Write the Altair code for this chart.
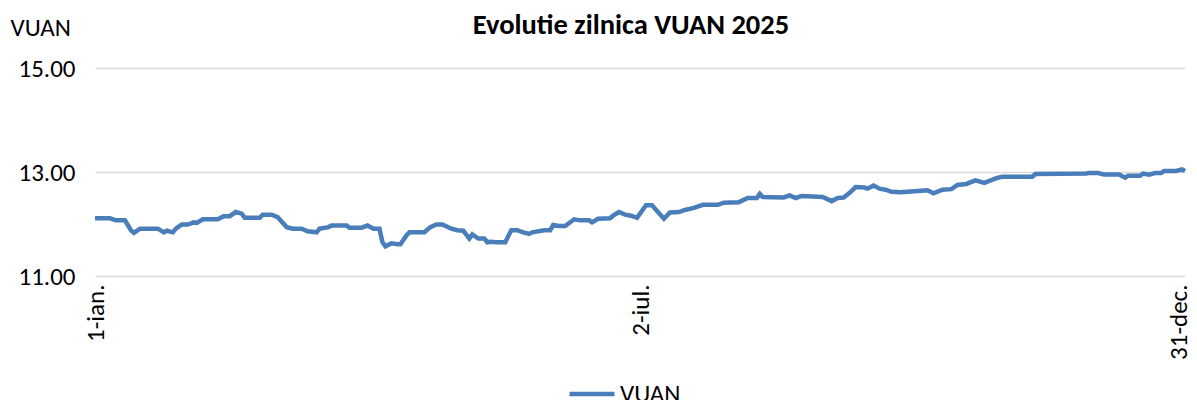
import altair as alt
import pandas as pd

# Data (VUAN daily evolution, 2025)
dates = [
    "2025-01-01", "2025-01-06", "2025-01-08", "2025-01-11", "2025-01-13", "2025-01-14", "2025-01-16",
    "2025-01-22", "2025-01-24", "2025-01-25", "2025-01-27", "2025-01-28", "2025-01-30",
    "2025-02-01", "2025-02-03", "2025-02-04", "2025-02-06", "2025-02-11", "2025-02-13", "2025-02-15",
    "2025-02-17", "2025-02-19", "2025-02-20", "2025-02-25", "2025-02-26",
    "2025-03-01", "2025-03-03", "2025-03-06", "2025-03-08", "2025-03-11", "2025-03-13", "2025-03-16",
    "2025-03-17", "2025-03-20", "2025-03-21", "2025-03-26", "2025-03-27", "2025-03-31",
    "2025-04-02", "2025-04-04", "2025-04-06", "2025-04-07", "2025-04-08", "2025-04-10", "2025-04-12",
    "2025-04-13", "2025-04-15", "2025-04-16", "2025-04-21", "2025-04-23", "2025-04-25", "2025-04-27",
    "2025-04-30",
    "2025-05-02", "2025-05-04", "2025-05-06", "2025-05-07", "2025-05-09", "2025-05-11", "2025-05-12",
    "2025-05-13", "2025-05-15", "2025-05-18", "2025-05-20", "2025-05-22", "2025-05-24", "2025-05-26",
    "2025-05-27", "2025-05-31",
    "2025-06-02", "2025-06-03", "2025-06-05", "2025-06-07", "2025-06-10", "2025-06-12", "2025-06-15",
    "2025-06-16", "2025-06-18", "2025-06-22", "2025-06-23", "2025-06-25", "2025-06-27", "2025-06-29",
    "2025-07-01", "2025-07-04", "2025-07-06", "2025-07-08", "2025-07-10", "2025-07-12", "2025-07-15",
    "2025-07-17", "2025-07-20", "2025-07-23", "2025-07-28", "2025-07-30",
    "2025-08-04", "2025-08-07", "2025-08-10", "2025-08-11", "2025-08-12", "2025-08-19", "2025-08-21",
    "2025-08-23", "2025-08-25",
    "2025-09-01", "2025-09-04", "2025-09-06", "2025-09-08", "2025-09-10", "2025-09-12", "2025-09-15",
    "2025-09-16", "2025-09-18", "2025-09-20", "2025-09-22", "2025-09-24", "2025-09-27",
    "2025-10-04", "2025-10-06", "2025-10-08", "2025-10-11", "2025-10-14", "2025-10-16", "2025-10-19",
    "2025-10-22", "2025-10-25", "2025-10-29", "2025-10-31",
    "2025-11-10", "2025-11-11", "2025-11-28", "2025-11-29",
    "2025-12-02", "2025-12-04", "2025-12-09", "2025-12-11", "2025-12-12", "2025-12-16", "2025-12-17",
    "2025-12-19", "2025-12-21", "2025-12-23", "2025-12-24", "2025-12-28", "2025-12-30", "2025-12-31",
]

values = [
    12.11, 12.11, 12.07, 12.07, 11.88, 11.83, 11.91,
    11.91, 11.84, 11.87, 11.84, 11.91, 11.99,
    11.99, 12.03, 12.02, 12.09, 12.09, 12.15, 12.15,
    12.23, 12.20, 12.12, 12.12, 12.18,
    12.18, 12.13, 11.94, 11.91, 11.91, 11.86, 11.84,
    11.91, 11.94, 11.97, 11.97, 11.93, 11.93,
    11.97, 11.91, 11.91, 11.65, 11.57, 11.63, 11.61,
    11.61, 11.78, 11.84, 11.84, 11.94, 11.99, 11.99,
    11.91,
    11.88, 11.87, 11.72, 11.80, 11.72, 11.72, 11.65,
    11.66, 11.65, 11.65, 11.88, 11.88, 11.84, 11.81,
    11.84, 11.88,
    11.88, 11.98, 11.96, 11.96, 12.09, 12.07, 12.07,
    12.03, 12.10, 12.11, 12.16, 12.23, 12.18, 12.16,
    12.12, 12.36, 12.36, 12.23, 12.10, 12.22, 12.23,
    12.27, 12.31, 12.37, 12.37, 12.41,
    12.42, 12.50, 12.50, 12.58, 12.52, 12.51, 12.55,
    12.50, 12.54,
    12.52, 12.44, 12.50, 12.51, 12.60, 12.71, 12.70,
    12.68, 12.74, 12.68, 12.66, 12.62, 12.61,
    12.64, 12.65, 12.59, 12.66, 12.67, 12.75, 12.77,
    12.84, 12.79, 12.88, 12.91,
    12.91, 12.96, 12.97, 12.98,
    12.98, 12.95, 12.95, 12.89, 12.93, 12.93, 12.97,
    12.95, 12.98, 12.98, 13.02, 13.02, 13.05, 13.02,
]

series_name = "VUAN"
y_ticks = [11, 13, 15]
month_labels = ["ian.", "feb.", "mar.", "apr.", "mai", "iun.", "iul.", "aug.", "sept.", "oct.", "nov.", "dec."]
x_tick_dates = [(2025, 1, 1), (2025, 7, 2), (2025, 12, 31)]

df = pd.DataFrame({"date": dates, "value": values, "series": series_name})

FONT = "Carlito, Lato, sans-serif"
FS = 25
month_js = "[" + ",".join("'" + m + "'" for m in month_labels) + "]"

x_values = [alt.DateTime(year=y, month=m, date=d, utc=True) for (y, m, d) in x_tick_dates]

chart = alt.Chart(df).mark_line(strokeWidth=4.5).encode(
    x=alt.X(
        "date:T",
        scale=alt.Scale(
            type="utc",
            domain=[alt.DateTime(year=2025, month=1, date=1, utc=True),
                    alt.DateTime(year=2025, month=12, date=31, utc=True)],
        ),
        axis=alt.Axis(
            values=x_values,
            labelExpr="utcdate(datum.value) + '-' + " + month_js + "[utcmonth(datum.value)]",
            labelAngle=270,
            labelAlign="right",
            labelBaseline="middle",
            labelFontSize=FS,
            labelFont=FONT,
            labelColor="#000000",
            labelPadding=8,
            labelOffset={"condition": {"test": "utcmonth(datum.value) == 11", "value": -7}, "value": 0},
            ticks=False,
            domain=False,
            grid=False,
            title=None,
            labelOverlap=False,
            labelBound=False,
            labelFlush=False,
        ),
    ),
    y=alt.Y(
        "value:Q",
        scale=alt.Scale(domain=[11, 15], nice=False, zero=False),
        axis=alt.Axis(
            values=y_ticks,
            format=".2f",
            labelFontSize=FS,
            labelFont=FONT,
            labelColor="#000000",
            labelPadding=20,
            ticks=False,
            domain=False,
            grid=True,
            gridColor="#d9d9d9",
            gridWidth=1.3,
            title="VUAN",
            titleAngle=0,
            titleAlign="left",
            titleBaseline="middle",
            titleX=-85,
            titleY=-41,
            titleFont=FONT,
            titleFontSize=FS,
            titleFontWeight="normal",
            titleColor="#000000",
        ),
    ),
    color=alt.Color(
        "series:N",
        scale=alt.Scale(domain=[series_name], range=["#4a7ebb"]),
        legend=alt.Legend(
            orient="none",
            legendX=472,
            legendY=301,
            direction="horizontal",
            title=None,
            symbolType="stroke",
            symbolSize=2025,
            symbolStrokeWidth=4.5,
            labelFontSize=FS,
            labelFont=FONT,
            labelColor="#000000",
            labelOffset=3,
        ),
    ),
).properties(
    width=1090,
    height=208,
    title=alt.TitleParams(
        text="Evolutie zilnica VUAN 2025",
        font=FONT,
        fontSize=28.5,
        fontWeight="bold",
        color="#000000",
        anchor="middle",
        frame="group",
        offset=10,
        dx=-9,
        dy=34,
    ),
    padding={"left": 87, "top": 60, "right": 4, "bottom": 124},
    autosize=alt.AutoSizeParams(type="none"),
    background="white",
).configure_view(stroke=None)

chart.save("out.html", embed_options={"renderer": "svg", "actions": False})
